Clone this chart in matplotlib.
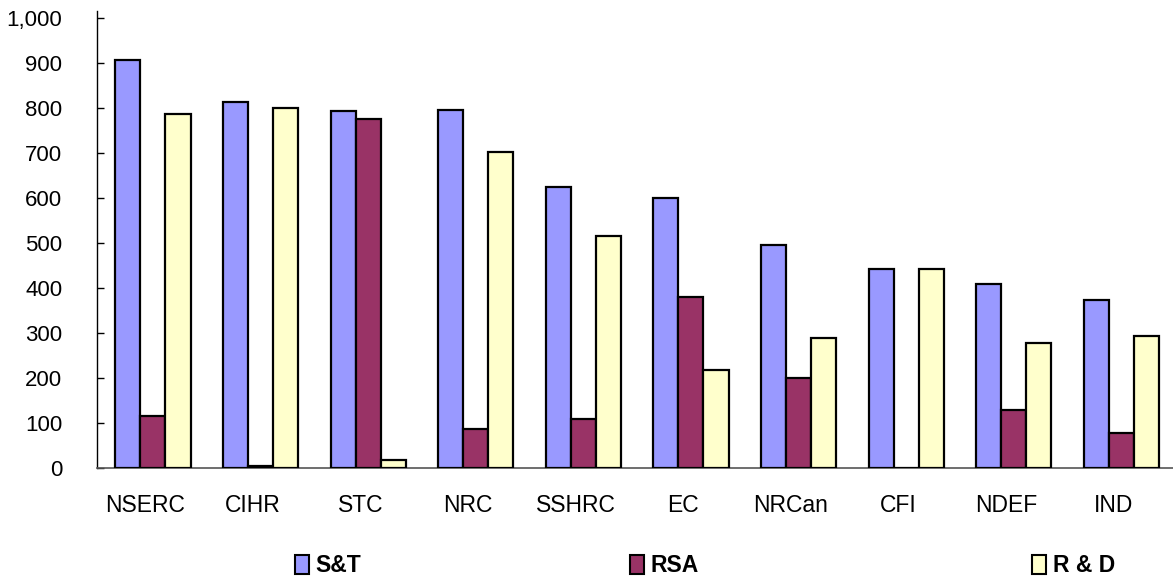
import numpy as np
import matplotlib.pyplot as plt
from matplotlib.patches import Patch

plt.rcParams['font.family'] = ['Liberation Sans', 'DejaVu Sans']

agencies = ["NSERC", "CIHR", "STC", "NRC", "SSHRC", "EC", "NRCan", "CFI", "NDEF", "IND"]
st = [907, 814, 792, 795, 625, 599, 495, 443, 409, 374]
rsa = [116, 5, 775, 86, 108, 380, 201, 0, 129, 78]
rd = [787, 800, 18, 703, 515, 218, 289, 443, 277, 294]

series = [("S&T", st, "#9999FF"), ("RSA", rsa, "#993366"), ("R & D", rd, "#FFFFCC")]

fig = plt.figure(figsize=(11.73, 5.8), dpi=100)
ax = fig.add_axes([0.0827, 0.193, 0.9173, 0.788])

x = np.arange(len(agencies))
w = 0.233
shift = 0.07  # bar groups sit a little right of the category labels
for i, (name, vals, col) in enumerate(series):
    ax.bar(x + shift + (i - 1) * w, vals, w, color=col, edgecolor="black", linewidth=1.6, zorder=3)

ax.set_xlim(-0.45, 9.55)
ax.set_ylim(0, 1015)
ax.set_yticks(range(0, 1001, 100))
ax.set_yticklabels([f"{v:,}" for v in range(0, 1001, 100)])
ax.set_xticks(x)
ax.set_xticklabels(agencies)

ax.tick_params(axis="y", direction="in", length=5, width=1, labelsize=16, pad=25)
ax.tick_params(axis="x", length=0, labelsize=16.5, pad=19)

for s in ["top", "right"]:
    ax.spines[s].set_visible(False)
ax.spines["left"].set_linewidth(1)
ax.spines["bottom"].set_color("#555555")
ax.spines["bottom"].set_linewidth(1.2)

# one legend box per series, spread along the bottom
legend_x = [295, 630, 1032]
for (name, vals, col), lx in zip(series, legend_x):
    h = Patch(facecolor=col, edgecolor="black", linewidth=1.5)
    fig.legend([h], [name], loc="center left", bbox_to_anchor=(lx / 1173, 1 - 566 / 580),
               frameon=False, borderpad=0, borderaxespad=0, handlelength=0.6,
               handleheight=0.9, handletextpad=0.3,
               prop={"weight": "bold", "size": 16.5})

fig.savefig("out.png", dpi=100)
